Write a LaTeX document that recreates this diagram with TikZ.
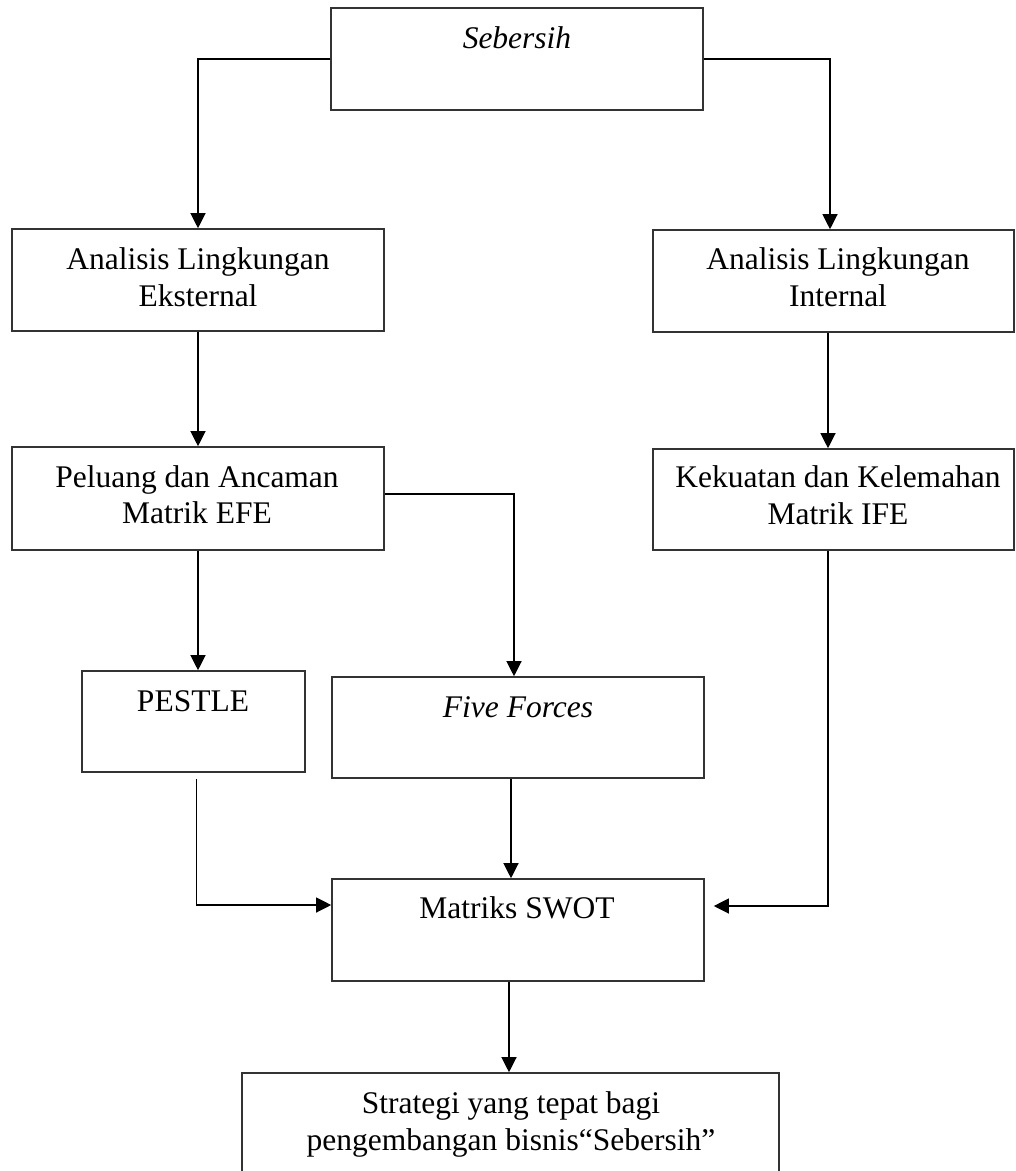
\documentclass[tikz,border=0pt]{standalone}
\usepackage{fontspec}
\setmainfont{Liberation Serif}
\usetikzlibrary{arrows.meta}
\begin{document}
\begin{tikzpicture}[x=1pt,y=-1pt,
  box/.style={draw=black!80, line width=1.6pt, rectangle, inner sep=0pt},
  txt/.style={anchor=base, inner sep=0pt, font=\fontsize{31.5}{37}\selectfont},
  itxt/.style={txt, font=\fontsize{31.5}{37}\selectfont\itshape},
  conn/.style={draw=black, line width=1.2pt, -{Triangle[length=15pt,width=15pt]}},
  plain/.style={draw=black, line width=1.2pt}]
\path[use as bounding box, clip] (0,0) rectangle (1016,1171);
\fill[white] (0,0) rectangle (1016,1171);

% boxes
\node[box, minimum width=372pt, minimum height=102pt] (seb)    at (517,59)     {};
\node[box, minimum width=372pt, minimum height=102pt] (ext)    at (198,280)    {};
\node[box, minimum width=361pt, minimum height=102pt] (int)    at (833.5,281)  {};
\node[box, minimum width=372pt, minimum height=103pt] (efe)    at (198,498.5)  {};
\node[box, minimum width=361pt, minimum height=101pt] (ife)    at (833.5,499.5){};
\node[box, minimum width=223pt, minimum height=101pt] (pestle) at (193.5,721.5){};
\node[box, minimum width=372pt, minimum height=101pt] (ff)     at (518,727.5)  {};
\node[box, minimum width=372pt, minimum height=102pt] (swot)   at (518,930)    {};
\node[box, minimum width=537pt, minimum height=127pt] (strat)  at (510.5,1136.5){};

% texts
\node[itxt] (sebT)  at (517,48)  {Sebersih};
\node[txt]  (extA)  at (198,269) {Analisis Lingkungan};
\node[txt]  (extB)  at (198,306) {Eksternal};
\node[txt]  (intA)  at (838,269) {Analisis Lingkungan};
\node[txt]  (intB)  at (838,306) {Internal};
\node[txt]  (efeA)  at (197,487) {Peluang dan Ancaman};
\node[txt]  (efeB)  at (197,523) {Matrik EFE};
\node[txt]  (ifeA)  at (838,487) {Kekuatan dan Kelemahan};
\node[txt]  (ifeB)  at (838,524) {Matrik IFE};
\node[txt]  (pesT)  at (193,711) {PESTLE};
\node[itxt] (ffT)   at (518,717) {Five Forces};
\node[txt]  (swotT) at (517,918) {Matriks SWOT};
\node[txt]  (strA)  at (511,1113) {Strategi yang tepat bagi};
\node[txt]  (strB)  at (511,1150) {pengembangan bisnis“Sebersih”};

% connectors
\draw[conn] (seb.west) -| (ext.north);
\draw[conn] (seb.east) -| ([xshift=-3.5pt]int.north);
\draw[conn] (ext.south) -- (efe.north);
\draw[conn] ([xshift=-5.5pt]int.south) -- ([xshift=-5.5pt]ife.north);
\draw[conn] (efe.south) -- (efe.south |- pestle.north);
\draw[conn] ([yshift=4.5pt]efe.east) -| ([xshift=-4pt]ff.north);
\draw[conn] ([xshift=3pt,yshift=-6pt]pestle.south) |- ([yshift=25pt]swot.west);
\draw[conn] ([xshift=-7pt]ff.south) -- ([xshift=-7pt]swot.north);
\draw[conn] ([xshift=-5.5pt]ife.south) |- ([xshift=9pt,yshift=24pt]swot.east);
\draw[conn] ([xshift=-9pt]swot.south) -- ([xshift=-9pt]swot.south |- strat.north);
\end{tikzpicture}
\end{document}
